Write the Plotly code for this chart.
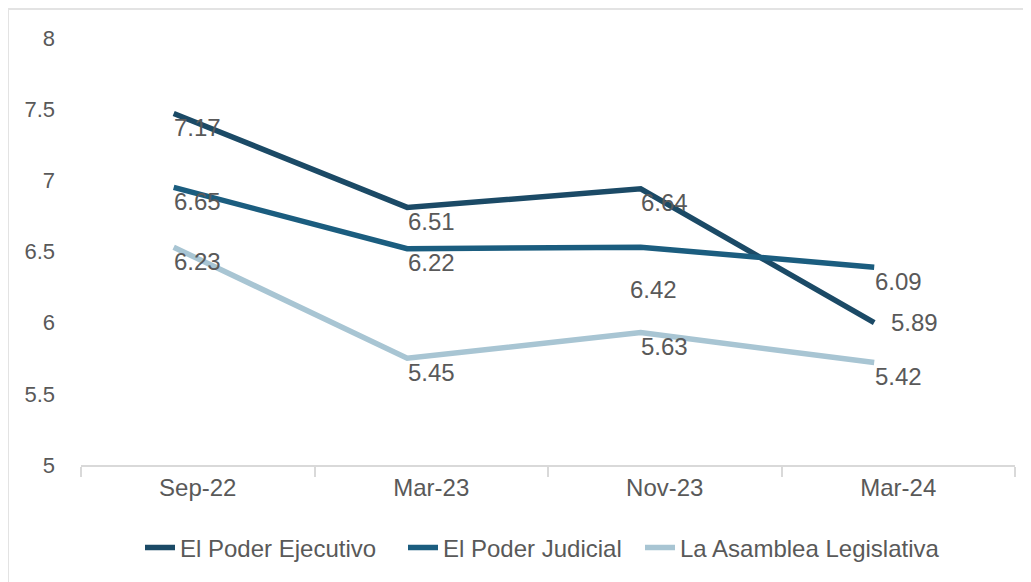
import plotly.graph_objects as go

periods = ["Sep-22", "Mar-23", "Nov-23", "Mar-24"]
series_names = ["El Poder Ejecutivo", "El Poder Judicial", "La Asamblea Legislativa"]

# where the lines sit in the picture
ejecutivo = [7.47, 6.81, 6.94, 6.00]
judicial = [6.95, 6.52, 6.53, 6.39]
asamblea = [6.53, 5.75, 5.93, 5.72]

# values printed next to the points
ejecutivo_labels = [7.17, 6.51, 6.64, 5.89]
judicial_labels = [6.65, 6.22, 6.42, 6.09]
asamblea_labels = [6.23, 5.45, 5.63, 5.42]

y_ticks = [5, 5.5, 6, 6.5, 7, 7.5, 8]

colors = ["#1b4a66", "#1b5d7f", "#a8c5d3"]
text_color = "#595959"
grey = "#d9d9d9"

# pixel nudges for the printed labels (default sits just under the point)
label_nudge = {(0, 3): (16, 0), (1, 2): (-11, -42)}

# the page body has an 8px margin, so the figure is laid out 8px smaller
W, H = 1023, 574
plot_l, plot_r, plot_t, plot_b = 73, 1007, 30, 457
pw, ph = plot_r - plot_l, plot_b - plot_t

lines = [ejecutivo, judicial, asamblea]
labels = [ejecutivo_labels, judicial_labels, asamblea_labels]
legend_ids = ["legend", "legend2", "legend3"]
legend_left = [132, 395, 632]

fig = go.Figure()
for name, ys, col, lg in zip(series_names, lines, colors, legend_ids):
    fig.add_trace(go.Scatter(
        x=periods, y=ys, name=name, mode="lines", showlegend=True,
        line=dict(color=col, width=5.5),
        xaxis="x2", yaxis="y", legend=lg,
    ))

annotations = []
for i, (ys, labs) in enumerate(zip(lines, labels)):
    for j, (p, y, lab) in enumerate(zip(periods, ys, labs)):
        dx, dy = label_nudge.get((i, j), (0, -14))
        annotations.append(dict(
            x=p, y=y, xref="x", yref="y", text=f"{lab:.2f}", showarrow=False,
            xshift=dx, yshift=dy, font=dict(size=24, color=text_color),
        ))

legends = {}
for lg, left in zip(legend_ids, legend_left):
    legends[lg] = dict(
        orientation="h", x=(left - plot_l) / pw, xanchor="left",
        y=(plot_b - 540) / ph, yanchor="middle",
        font=dict(size=24, color=text_color), bgcolor="rgba(0,0,0,0)",
    )

fig.update_layout(
    width=W, height=H, showlegend=True,
    margin=dict(l=plot_l, r=W - plot_r, t=plot_t, b=H - plot_b),
    paper_bgcolor="white", plot_bgcolor="white",
    font=dict(family="Liberation Sans, Arial, sans-serif", color=text_color),
    xaxis=dict(
        type="category", categoryarray=periods, range=[-0.5, 3.5], automargin=False,
        tickson="boundaries", ticks="outside", ticklen=10, tickwidth=2, tickcolor=grey,
        showline=True, linecolor=grey, linewidth=2, showgrid=False,
        tickfont=dict(size=24, color=text_color),
    ),
    # lines are drawn a little left of the category centres
    xaxis2=dict(
        type="category", categoryarray=periods, range=[-0.397, 3.603],
        overlaying="x", visible=False,
    ),
    yaxis=dict(
        range=[5, 8], tickvals=y_ticks, showgrid=False, zeroline=False, showline=False,
        automargin=False, tickfont=dict(size=22, color=text_color), ticklabelstandoff=25,
    ),
    annotations=annotations,
    shapes=[dict(
        type="rect", xref="paper", yref="paper",
        x0=(0 - plot_l) / pw, x1=(1022 - plot_l) / pw, y0=-0.4, y1=(plot_b - 1) / ph,
        line=dict(color="#e3e3e3", width=2), layer="below",
    )],
    **legends,
)

fig.write_html("out.html")
